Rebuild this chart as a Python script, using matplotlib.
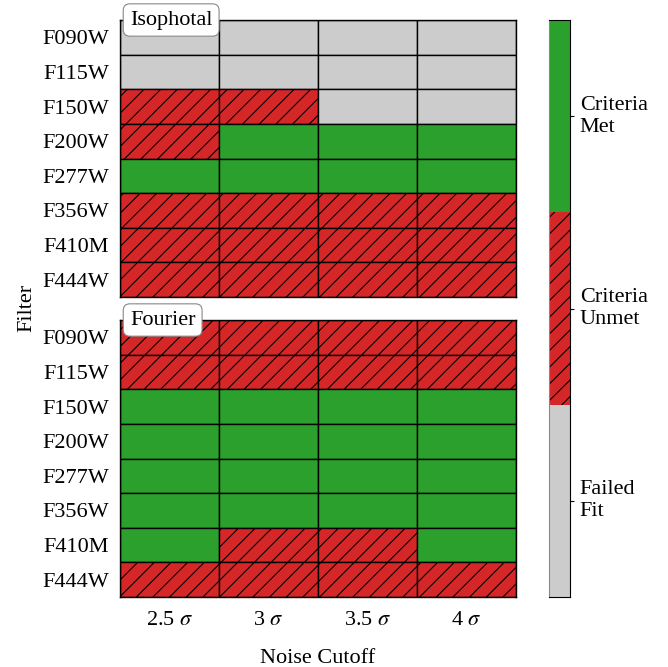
import matplotlib
matplotlib.use("Agg")
import matplotlib.pyplot as plt
from matplotlib.patches import Rectangle

plt.rcParams["font.family"] = ["Liberation Serif", "DejaVu Serif"]
plt.rcParams["mathtext.fontset"] = "stix"
plt.rcParams["hatch.linewidth"] = 0.8

filters = ["F090W", "F115W", "F150W", "F200W", "F277W", "F356W", "F410M", "F444W"]
cutoffs = ["2.5 $\\sigma$", "3 $\\sigma$", "3.5 $\\sigma$", "4 $\\sigma$"]
# 0 = failed fit, 1 = criteria unmet, 2 = criteria met
isophotal = [
    [0, 0, 0, 0],
    [0, 0, 0, 0],
    [1, 1, 0, 0],
    [1, 2, 2, 2],
    [2, 2, 2, 2],
    [1, 1, 1, 1],
    [1, 1, 1, 1],
    [1, 1, 1, 1],
]
fourier = [
    [1, 1, 1, 1],
    [1, 1, 1, 1],
    [2, 2, 2, 2],
    [2, 2, 2, 2],
    [2, 2, 2, 2],
    [2, 2, 2, 2],
    [2, 1, 1, 2],
    [1, 1, 1, 1],
]
status_labels = ["Failed\nFit", "Criteria\nUnmet", "Criteria\nMet"]
colors = ["#cccccc", "#d62728", "#2ca02c"]
hatches = [None, "//", None]
FS = 16

fig = plt.figure(figsize=(6.68, 6.67), dpi=100)
W, H = 668, 667
ax_top = fig.add_axes([120 / W, 1 - 297 / H, 396 / W, 277 / H])
ax_bot = fig.add_axes([120 / W, 1 - 597 / H, 396 / W, 277 / H])
cax = fig.add_axes([549 / W, 1 - 597 / H, 21 / W, 577 / H])


def draw_grid(ax, grid, title):
    for i, row in enumerate(grid):
        for j, v in enumerate(row):
            ax.add_patch(Rectangle((j, i), 1, 1, facecolor=colors[v], hatch=hatches[v],
                                   edgecolor="black", linewidth=1.0))
    ax.set_xlim(0, len(cutoffs))
    ax.set_ylim(len(filters), 0)
    ax.set_yticks([i + 0.5 for i in range(len(filters))])
    ax.set_yticklabels(filters, fontsize=FS)
    ax.set_xticks([j + 0.5 for j in range(len(cutoffs))])
    ax.tick_params(length=0, pad=8)
    for s in ax.spines.values():
        s.set_linewidth(1.0)
    ax.text(0.025, 1.0, title, transform=ax.transAxes, fontsize=FS, va="center", ha="left",
            bbox=dict(boxstyle="round,pad=0.3", facecolor="white", edgecolor="#888888", linewidth=0.8),
            zorder=5)


draw_grid(ax_top, isophotal, "Isophotal")
ax_top.set_xticklabels([])
draw_grid(ax_bot, fourier, "Fourier")
ax_bot.set_xticklabels(cutoffs, fontsize=FS)
ax_bot.tick_params(axis="x", pad=10)
ax_bot.set_xlabel("Noise Cutoff", fontsize=FS, labelpad=14)
fig.text(27 / W, 1 - 308 / H, "Filter", rotation=90, fontsize=FS, ha="center", va="center")

# discrete colour key
for k in range(3):
    cax.add_patch(Rectangle((0, k), 1, 1, facecolor=colors[k], hatch=hatches[k],
                            edgecolor="black", linewidth=0))
cax.set_xlim(0, 1)
cax.set_ylim(0, 3)
cax.set_xticks([])
cax.yaxis.tick_right()
cax.set_yticks([k + 0.5 for k in range(3)])
cax.set_yticklabels(status_labels, fontsize=FS, va="center", ha="left")
cax.tick_params(axis="y", length=3, width=0.8, pad=4)
for s in cax.spines.values():
    s.set_linewidth(0.8)
cax.spines["left"].set_color("#888888")

fig.savefig("out.png", dpi=100)
